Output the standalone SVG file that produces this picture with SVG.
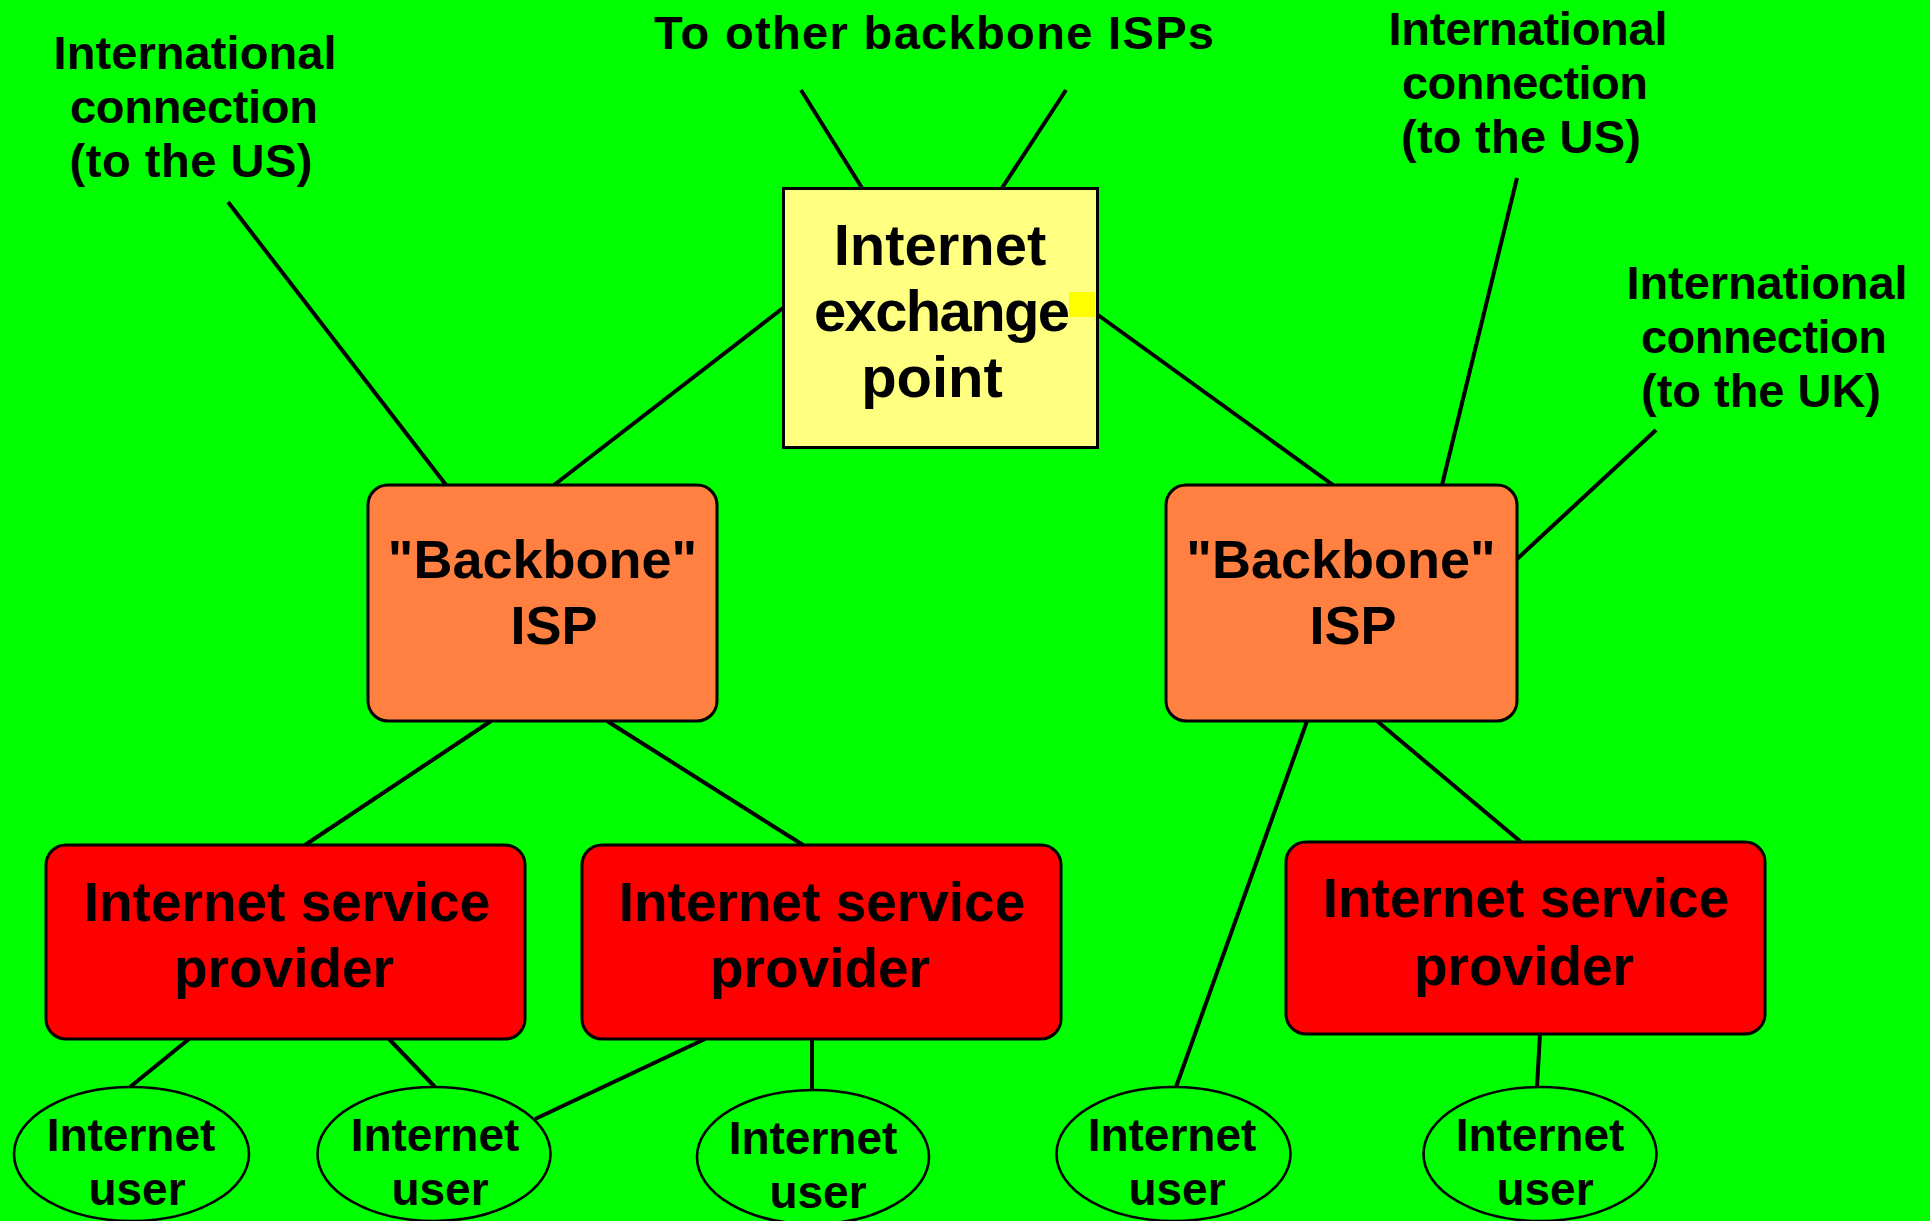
<svg xmlns="http://www.w3.org/2000/svg" width="1930" height="1221" viewBox="0 0 1930 1221">
<style>
text{font-family:"Liberation Sans",Arial,sans-serif;font-weight:bold;fill:#000;text-anchor:middle}
.lbl{font-size:47px}
.ixp{font-size:58px}
.bb{font-size:54px}
.isp{font-size:55px}
.usr{font-size:46px}
.conn line{stroke:#000;stroke-width:4;stroke-linecap:butt}
.box{stroke:#000;stroke-width:3}
.ell{fill:#00FF00;stroke:#000;stroke-width:2.6}
</style>
<rect x="0" y="0" width="1930" height="1221" fill="#00FF00"/>
<g id="connectors" class="conn">
<line x1="228" y1="202" x2="446" y2="485"/>
<line x1="554" y1="485" x2="783" y2="308"/>
<line x1="801" y1="90" x2="862" y2="188"/>
<line x1="1066" y1="90" x2="1002" y2="188"/>
<line x1="1098" y1="315" x2="1333" y2="485"/>
<line x1="1517" y1="178" x2="1442" y2="485"/>
<line x1="1656" y1="430" x2="1517" y2="559"/>
<line x1="491" y1="721" x2="305" y2="845"/>
<line x1="607" y1="721" x2="803" y2="845"/>
<line x1="189" y1="1039" x2="130" y2="1087"/>
<line x1="389" y1="1039" x2="435" y2="1087"/>
<line x1="705" y1="1039" x2="535" y2="1119"/>
<line x1="812" y1="1039" x2="812" y2="1090"/>
<line x1="1307" y1="721" x2="1176" y2="1087"/>
<line x1="1377" y1="721" x2="1521" y2="842"/>
<line x1="1540" y1="1034" x2="1537" y2="1087"/>
</g>
<g id="label-intl-us-left">
<text class="lbl" x="195" y="69" textLength="283">International</text>
<text class="lbl" x="194" y="123" textLength="248">connection</text>
<text class="lbl" x="191" y="177" textLength="243">(to the US)</text>
</g>
<g id="label-other-isps">
<text class="lbl" x="934" y="49" textLength="560">To other backbone ISPs</text>
</g>
<g id="label-intl-us-right">
<text class="lbl" x="1528" y="45" textLength="279">International</text>
<text class="lbl" x="1525" y="99" textLength="246">connection</text>
<text class="lbl" x="1521" y="153" textLength="240">(to the US)</text>
</g>
<g id="label-intl-uk">
<text class="lbl" x="1767" y="299" textLength="281">International</text>
<text class="lbl" x="1764" y="353" textLength="246">connection</text>
<text class="lbl" x="1761" y="407" textLength="240">(to the UK)</text>
</g>
<g id="ixp">
<rect class="box" x="783.5" y="188.5" width="314" height="259" fill="#FFFF80"/>
<rect x="1069" y="292" width="26" height="25" fill="#FFFF00"/>
<text class="ixp" x="940" y="265">Internet</text>
<text class="ixp" x="942" y="331" textLength="256">exchange</text>
<text class="ixp" x="932" y="397">point</text>
</g>
<g id="backbone-left">
<rect class="box" x="368" y="485" width="349" height="236" rx="20" fill="#FF8040"/>
<text class="bb" x="542.5" y="578">"Backbone"</text>
<text class="bb" x="554" y="644">ISP</text>
</g>
<g id="backbone-right">
<rect class="box" x="1166" y="485" width="351" height="236" rx="20" fill="#FF8040"/>
<text class="bb" x="1341" y="578">"Backbone"</text>
<text class="bb" x="1353" y="644">ISP</text>
</g>
<g id="isp-1">
<rect class="box" x="46" y="845" width="479" height="194" rx="20" fill="#FF0000"/>
<text class="isp" x="287" y="921">Internet service</text>
<text class="isp" x="284" y="987">provider</text>
</g>
<g id="isp-2">
<rect class="box" x="582" y="845" width="479" height="194" rx="20" fill="#FF0000"/>
<text class="isp" x="822" y="921">Internet service</text>
<text class="isp" x="820" y="987">provider</text>
</g>
<g id="isp-3">
<rect class="box" x="1286" y="842" width="479" height="192" rx="20" fill="#FF0000"/>
<text class="isp" x="1526" y="917">Internet service</text>
<text class="isp" x="1524" y="985">provider</text>
</g>
<g id="user-1">
<ellipse class="ell" cx="131.5" cy="1154" rx="117.5" ry="67"/>
<text class="usr" x="131" y="1151">Internet</text>
<text class="usr" x="137" y="1205">user</text>
</g>
<g id="user-2">
<ellipse class="ell" cx="434" cy="1154" rx="116.5" ry="67"/>
<text class="usr" x="435" y="1151">Internet</text>
<text class="usr" x="440" y="1205">user</text>
</g>
<g id="user-3">
<ellipse class="ell" cx="813" cy="1157" rx="116" ry="67"/>
<text class="usr" x="813" y="1154">Internet</text>
<text class="usr" x="818" y="1208">user</text>
</g>
<g id="user-4">
<ellipse class="ell" cx="1173.5" cy="1154" rx="117" ry="67"/>
<text class="usr" x="1172" y="1151">Internet</text>
<text class="usr" x="1177" y="1205">user</text>
</g>
<g id="user-5">
<ellipse class="ell" cx="1540" cy="1154" rx="116.5" ry="67"/>
<text class="usr" x="1540" y="1151">Internet</text>
<text class="usr" x="1545" y="1205">user</text>
</g>
</svg>
